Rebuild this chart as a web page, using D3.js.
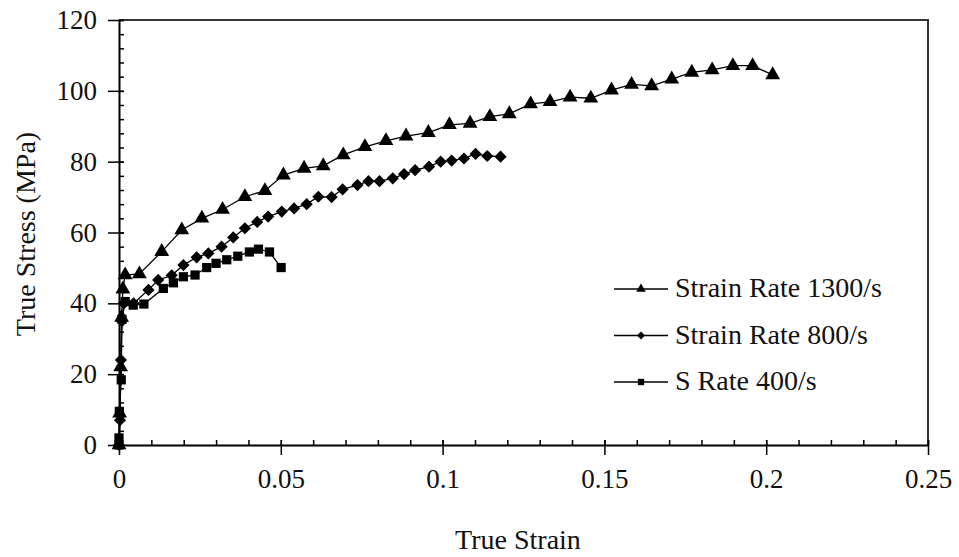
<!DOCTYPE html>
<html><head><meta charset="utf-8">
<script src="https://cdn.jsdelivr.net/npm/d3@7"></script>
<style>body{margin:0;background:#fff}svg{display:block}text{font-family:"Liberation Serif","Times New Roman",serif;fill:#111}</style>
</head><body><svg id="c" width="959" height="557"></svg>
<script>
const strain1300 = [0, 0.0002, 0.0005, 0.0008, 0.0012, 0.0019, 0.0063, 0.0132, 0.0194, 0.0256, 0.0320, 0.0389, 0.0451, 0.0508, 0.0572, 0.0631, 0.0693, 0.0760, 0.0825, 0.0887, 0.0956, 0.1021, 0.1085, 0.1146, 0.1206, 0.1272, 0.1332, 0.1394, 0.1458, 0.1522, 0.1584, 0.1646, 0.1708, 0.1770, 0.1833, 0.1897, 0.1958, 0.2020];
const stress1300 = [0, 9, 22, 36, 44, 48, 48.3, 54.6, 60.7, 64.0, 66.5, 70.1, 71.8, 76.2, 78.1, 78.8, 81.9, 84.2, 85.9, 87.2, 88.2, 90.4, 90.8, 92.7, 93.5, 96.3, 96.9, 98.2, 97.9, 100.2, 101.8, 101.4, 103.3, 105.2, 105.9, 107.1, 107.1, 104.5];
const strain800 = [0, 0.0003, 0.0006, 0.0009, 0.0015, 0.0045, 0.0091, 0.0121, 0.0163, 0.0199, 0.0240, 0.0276, 0.0317, 0.0353, 0.0389, 0.0427, 0.0461, 0.0503, 0.0541, 0.0580, 0.0616, 0.0657, 0.0691, 0.0737, 0.0771, 0.0805, 0.0846, 0.0881, 0.0915, 0.0958, 0.0994, 0.1028, 0.1066, 0.1102, 0.1138, 0.1179];
const stress800 = [0, 7, 24, 35, 40, 40, 43.8, 46.6, 47.9, 50.8, 53.0, 54.1, 56.0, 58.6, 61.2, 63.0, 64.5, 65.9, 66.8, 68.0, 70.1, 70.0, 72.2, 73.4, 74.5, 74.5, 75.3, 76.5, 77.6, 78.6, 80.0, 80.3, 80.9, 82.2, 81.6, 81.4];
const strain400 = [0, 0, 0.0001, 0.0007, 0.0009, 0.0019, 0.0044, 0.0077, 0.0137, 0.0168, 0.0199, 0.0235, 0.0271, 0.0300, 0.0333, 0.0367, 0.0403, 0.0431, 0.0465, 0.0501];
const stress400 = [0, 2, 9.5, 18.4, 35.5, 40.5, 39.5, 39.8, 44.2, 45.8, 47.5, 48.0, 50.1, 51.3, 52.3, 53.3, 54.5, 55.3, 54.5, 50.1];
const seriesNames = ["Strain Rate 1300/s", "Strain Rate 800/s", "S Rate 400/s"];
const xTicks = [0, 0.05, 0.1, 0.15, 0.2, 0.25];
const xTickLabels = ["0", "0.05", "0.1", "0.15", "0.2", "0.25"];
const yTicks = [0, 20, 40, 60, 80, 100, 120];
const xTitle = "True Strain";
const yTitle = "True Stress (MPa)";

const svg = d3.select("#c");
const L = 119, R = 928, T = 20, B = 445;
const x = d3.scaleLinear().domain([0, 0.25]).range([L, R]);
const y = d3.scaleLinear().domain([0, 120]).range([B, T]);

svg.append("path").attr("d", `M${L},${T}H${R}V${B}`).attr("fill","none").attr("stroke","#333").attr("stroke-width",2);

const xMinor = d3.range(0, 0.2501, 0.01);
svg.append("g").attr("transform",`translate(0,${B})`)
  .call(d3.axisTop(x).tickValues(xMinor).tickSize(5).tickFormat(""))
  .call(g=>g.select(".domain").remove()).selectAll("line").attr("stroke","#000").attr("stroke-width",1.5);
svg.append("g").attr("transform",`translate(${L},0)`)
  .call(d3.axisRight(y).tickValues(d3.range(0,120.1,4)).tickSize(5).tickFormat(""))
  .call(g=>g.select(".domain").remove()).selectAll("line").attr("stroke","#000").attr("stroke-width",1.5);

const xa = svg.append("g").attr("transform",`translate(0,${B})`)
  .call(d3.axisBottom(x).tickValues(xTicks).tickSizeInner(10).tickSizeOuter(0).tickPadding(14).tickFormat((d,i)=>xTickLabels[i]));
xa.select(".domain").attr("stroke","#000").attr("stroke-width",2);
xa.selectAll(".tick line").attr("y1",-5).attr("stroke","#000").attr("stroke-width",1.5);
xa.selectAll("text").attr("font-size",27).attr("font-family","Liberation Serif").attr("fill","#111");

const ya = svg.append("g").attr("transform",`translate(${L},0)`)
  .call(d3.axisLeft(y).tickValues(yTicks).tickSizeInner(11).tickSizeOuter(0).tickPadding(11));
ya.select(".domain").attr("stroke","#000").attr("stroke-width",2);
ya.selectAll(".tick line").attr("x1",5).attr("stroke","#000").attr("stroke-width",1.5);
ya.selectAll("text").attr("font-size",27).attr("font-family","Liberation Serif").attr("fill","#111");

svg.append("text").attr("x",518).attr("y",549).attr("text-anchor","middle").attr("font-size",28).text(xTitle);
svg.append("text").attr("transform","translate(35,234) rotate(-90)").attr("text-anchor","middle").attr("font-size",28).text(yTitle);

const symbols = [d3.symbolTriangle, d3.symbolDiamond2, d3.symbolSquare];
const sizes = [95, 95, 85];
const data = [
  strain1300.map((s,i)=>[s,stress1300[i]]),
  strain800.map((s,i)=>[s,stress800[i]]),
  strain400.map((s,i)=>[s,stress400[i]])
];
const line = d3.line().x(d=>x(d[0])).y(d=>y(d[1]));
data.forEach((pts,k)=>{
  svg.append("path").attr("d", line(pts)).attr("fill","none").attr("stroke","#000").attr("stroke-width",1.3);
  svg.append("g").selectAll("path").data(pts).join("path")
    .attr("transform",d=>`translate(${x(d[0])},${y(d[1])})`)
    .attr("d", d3.symbol(symbols[k], sizes[k])).attr("fill","#000");
});

const legY = [289, 335.5, 382];
seriesNames.forEach((n,k)=>{
  const g = svg.append("g");
  g.append("line").attr("x1",614).attr("x2",668).attr("y1",legY[k]).attr("y2",legY[k]).attr("stroke","#000").attr("stroke-width",1.5);
  g.append("path").attr("transform",`translate(641,${legY[k]})`).attr("d", d3.symbol(symbols[k], 40)).attr("fill","#000");
  g.append("text").attr("x",675).attr("y",legY[k]+8).attr("font-size",28).text(n);
});
</script></body></html>
